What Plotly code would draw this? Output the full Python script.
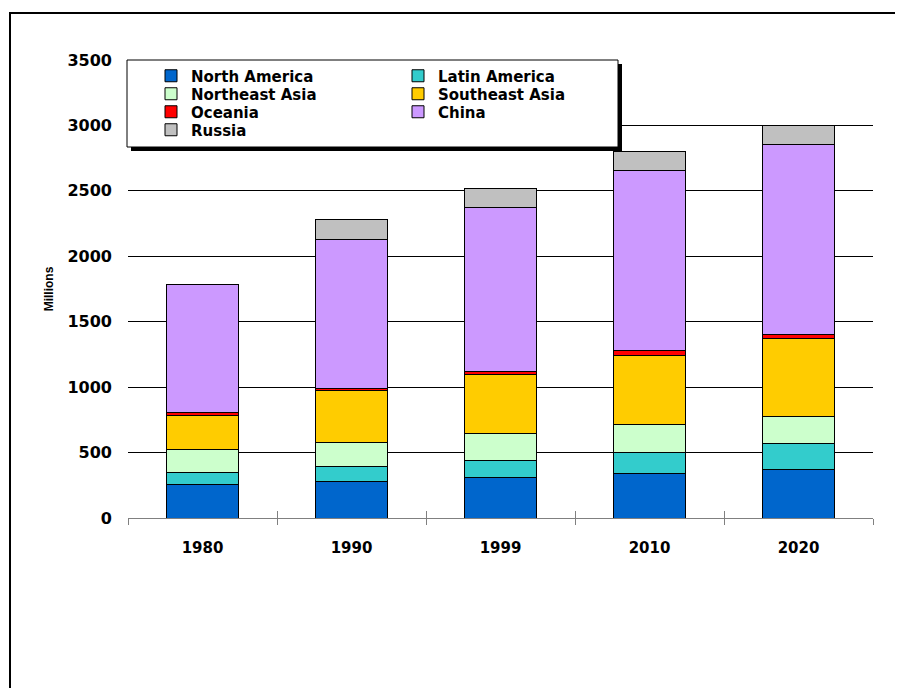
import plotly.graph_objects as go

years = ["1980", "1990", "1999", "2010", "2020"]
north_america = [255, 280, 306, 339, 372]
latin_america = [94, 117, 130, 165, 196]
northeast_asia = [171, 181, 206, 207, 206]
southeast_asia = [262, 400, 453, 530, 599]
oceania = [28, 13, 28, 38, 28]
china = [976, 1139, 1249, 1373, 1455]
russia = [0, 153, 148, 147, 143]

series = [
    ("North America", north_america, "#0066CC", "legend"),
    ("Latin America", latin_america, "#33CCCC", "legend"),
    ("Northeast Asia", northeast_asia, "#CCFFCC", "legend2"),
    ("Southeast Asia", southeast_asia, "#FFCC00", "legend2"),
    ("Oceania", oceania, "#FF0000", "legend3"),
    ("China", china, "#CC99FF", "legend3"),
    ("Russia", russia, "#C0C0C0", "legend4"),
]

W, H = 903, 688
OFF = 8  # page body margin
ML, MT = 120, 52
PW, PH = 745, 458
MR, MB = W - ML - PW, H - MT - PH

def px_x(sx):
    return (sx - OFF - ML) / PW

def px_y(sy):
    return (MT + PH - (sy - OFF)) / PH

fig = go.Figure()
for name, vals, color, lg in series:
    fig.add_trace(go.Bar(
        x=years, y=vals, name=name, legend=lg,
        marker=dict(color=color, line=dict(color="black", width=1)),
    ))

# helper trace for inside half of crossing ticks
fig.add_trace(go.Scatter(x=years, y=[0] * len(years), xaxis="x2", mode="markers",
                         marker=dict(opacity=0), showlegend=False, hoverinfo="skip"))

tick_font = dict(family="DejaVu Sans", size=15, color="black", weight="bold")
leg_font = dict(family="DejaVu Sans", size=15, color="black", weight="bold")

leg_common = dict(orientation="h", bgcolor="rgba(0,0,0,0)", borderwidth=0,
                  font=leg_font, entrywidth=202, entrywidthmode="pixels",
                  xanchor="left", yanchor="middle", x=px_x(151), traceorder="normal")
row_y = [76, 94, 112, 130]

fig.update_layout(
    width=W, height=H,
    margin=dict(l=ML, r=MR, t=MT, b=MB, autoexpand=False),
    paper_bgcolor="white", plot_bgcolor="white",
    barmode="stack", bargap=0.52,
    showlegend=True,
    legend=dict(leg_common, y=px_y(row_y[0])),
    legend2=dict(leg_common, y=px_y(row_y[1])),
    legend3=dict(leg_common, y=px_y(row_y[2])),
    legend4=dict(leg_common, y=px_y(row_y[3])),
    xaxis=dict(type="category", categoryorder="array", categoryarray=years,
               range=[-0.5, len(years) - 0.5],
               showline=True, linecolor="#808080", linewidth=1,
               ticks="outside", tickson="boundaries", ticklen=6, tickcolor="#808080",
               tickwidth=1, showgrid=False, tickfont=tick_font, ticklabelstandoff=16),
    xaxis2=dict(type="category", categoryorder="array", categoryarray=years,
                range=[-0.5, len(years) - 0.5], overlaying="x", side="bottom",
                ticks="inside", tickson="boundaries", ticklen=7, tickcolor="#808080",
                showticklabels=False, showgrid=False, showline=False),
    yaxis=dict(range=[0, 3500], dtick=500, showgrid=True, gridcolor="black",
               gridwidth=1, zeroline=False, showline=False, ticks="",
               tickfont=dict(family="DejaVu Sans", size=16, color="black", weight="bold"),
               ticklabelstandoff=15,
               title=dict(text="Millions", standoff=11,
                          font=dict(family="Liberation Sans", size=12, color="black", weight="bold"))),
    shapes=[
        # outer frame
        dict(type="rect", xref="paper", yref="paper", x0=px_x(10), x1=px_x(1000),
             y0=px_y(800), y1=px_y(13), line=dict(color="black", width=2), layer="above"),
        # legend shadow
        dict(type="rect", xref="paper", yref="paper", x0=px_x(131), x1=px_x(622),
             y0=px_y(151), y1=px_y(64), fillcolor="black", line=dict(width=0), layer="above"),
        # legend box
        dict(type="rect", xref="paper", yref="paper", x0=px_x(127), x1=px_x(618),
             y0=px_y(147), y1=px_y(60), fillcolor="white",
             line=dict(color="black", width=1), layer="above"),
    ],
)

fig.write_html("out.html")
